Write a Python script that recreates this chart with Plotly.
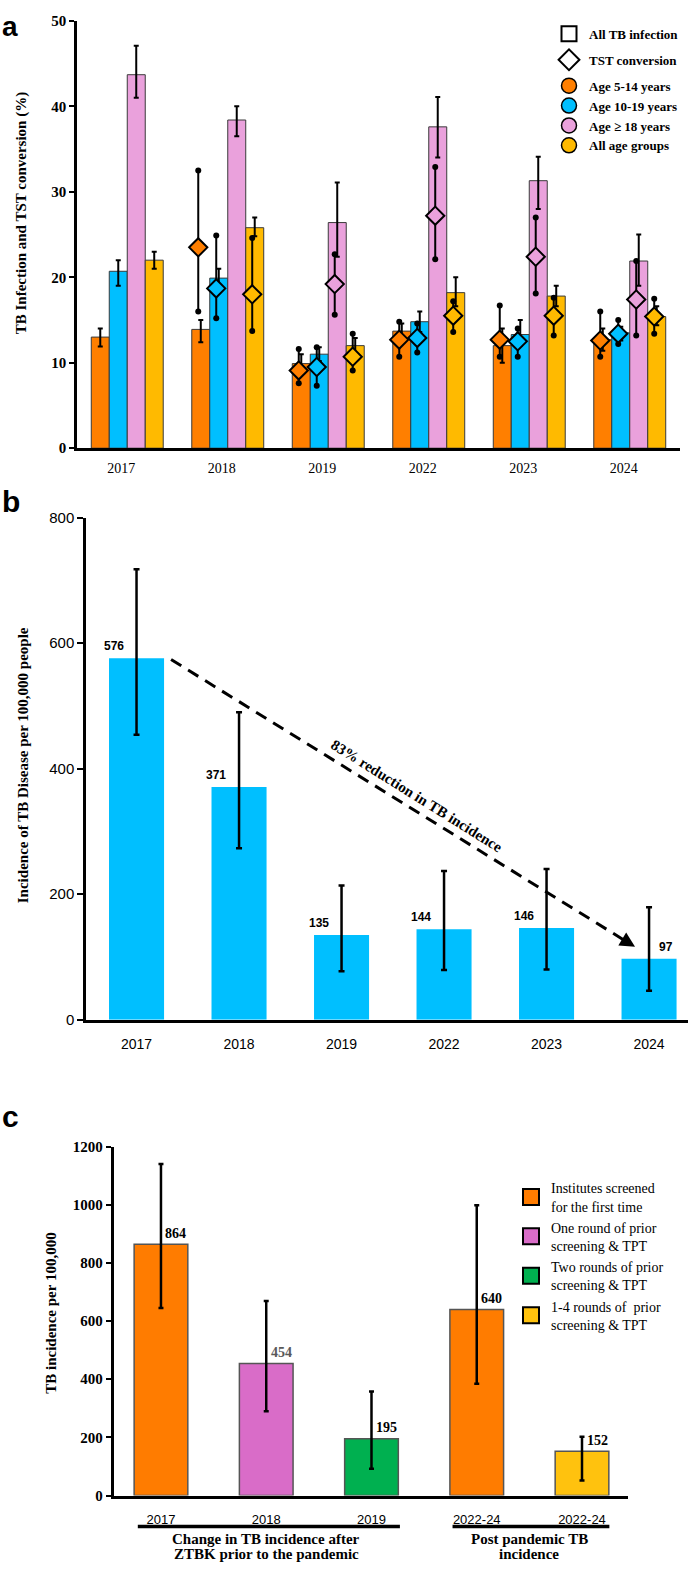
import numpy as np
import plotly.graph_objects as go

W, H = 692, 1571
nan = float("nan")
SERIF = "Times New Roman, Liberation Serif, serif"
SANS = "Arial, Liberation Sans, sans-serif"

# ---------------- Panel a data ----------------
years_a = ["2017", "2018", "2019", "2022", "2023", "2024"]
group_names = ["Age 5-14 years", "Age 10-19 years", "Age \u2265 18 years", "All age groups"]
group_colors = ["#FF7F00", "#00BFFF", "#EAA1DC", "#FFBA00"]

inf_age5_14 = [13.0, 13.9, 9.9, 13.7, 12.0, 12.7]
inf_age5_14_hi = [14.0, 15.0, 11.0, 14.6, 14.0, 14.0]
inf_age5_14_lo = [11.9, 12.4, 9.0, 12.8, 10.0, 11.4]
inf_age10_19 = [20.7, 19.9, 11.0, 14.8, 13.3, 13.5]
inf_age10_19_hi = [22.0, 21.0, 11.8, 16.0, 15.0, 14.2]
inf_age10_19_lo = [19.0, 18.6, 10.2, 13.6, 12.0, 12.6]
inf_age18 = [43.7, 38.4, 26.4, 37.6, 31.3, 21.9]
inf_age18_hi = [47.1, 40.0, 31.1, 41.1, 34.1, 25.0]
inf_age18_lo = [41.0, 36.5, 22.4, 34.0, 28.0, 19.0]
inf_all = [22.0, 25.8, 12.0, 18.2, 17.8, 15.4]
inf_all_hi = [23.0, 27.0, 12.9, 20.0, 19.0, 16.6]
inf_all_lo = [21.0, 24.8, 11.0, 16.6, 16.6, 14.4]

tst_age5_14 = [nan, 23.5, 9.1, 12.7, 12.7, 12.6]
tst_age5_14_hi = [nan, 32.5, 11.6, 14.8, 16.7, 16.0]
tst_age5_14_lo = [nan, 16.0, 7.6, 10.7, 10.7, 10.7]
tst_age10_19 = [nan, 18.7, 9.5, 12.9, 12.5, 13.4]
tst_age10_19_hi = [nan, 24.9, 11.8, 14.6, 14.0, 15.0]
tst_age10_19_lo = [nan, 15.2, 7.3, 11.2, 10.7, 12.2]
tst_age18 = [nan, nan, 19.2, 27.2, 22.4, 17.4]
tst_age18_hi = [nan, nan, 22.7, 32.9, 27.0, 21.9]
tst_age18_lo = [nan, nan, 15.6, 22.1, 18.1, 13.2]
tst_all = [nan, 18.0, 10.7, 15.5, 15.5, 15.4]
tst_all_hi = [nan, 24.6, 13.4, 17.2, 17.6, 17.5]
tst_all_lo = [nan, 13.7, 9.1, 13.6, 13.2, 13.4]

# ---------------- Panel b data ----------------
years_b = ["2017", "2018", "2019", "2022", "2023", "2024"]
incidence_b = [576, 371, 135, 144, 146, 97]
incidence_b_hi = [718, 490, 214, 237, 240, 179]
incidence_b_lo = [454, 273, 77, 79, 80, 46]
reduction_text = "83% reduction in TB incidence"

# ---------------- Panel c data ----------------
periods_c = ["2017", "2018", "2019", "2022-24", "2022-24"]
incidence_c = [864, 454, 195, 640, 152]
incidence_c_hi = [1140, 669, 358, 998, 202]
incidence_c_lo = [645, 290, 92, 384, 52]
cohort_c = [0, 1, 2, 0, 3]
cohort_names = ["Institutes screened<br>for the first time",
                "One round of prior<br>screening & TPT",
                "Two rounds of prior<br>screening & TPT",
                "1-4 rounds of  prior<br>screening & TPT"]
cohort_colors = ["#FF7C00", "#D96CC8", "#00B050", "#FFC20E"]
label_colors_c = ["black", "#595959", "black", "black", "black"]
group_label_1 = ["Change in TB incidence after", "ZTBK prior to the pandemic"]
group_label_2 = ["Post pandemic TB", "incidence"]

fig = go.Figure()

# ---------------- Panel a traces ----------------
inf_sets = [(inf_age5_14, inf_age5_14_hi, inf_age5_14_lo),
            (inf_age10_19, inf_age10_19_hi, inf_age10_19_lo),
            (inf_age18, inf_age18_hi, inf_age18_lo),
            (inf_all, inf_all_hi, inf_all_lo)]
tst_sets = [(tst_age5_14, tst_age5_14_hi, tst_age5_14_lo),
            (tst_age10_19, tst_age10_19_hi, tst_age10_19_lo),
            (tst_age18, tst_age18_hi, tst_age18_lo),
            (tst_all, tst_all_hi, tst_all_lo)]
idx_a = np.arange(len(years_a))
bar_w = 0.179
offsets = (np.arange(4) - 1.5) * bar_w

for g in range(4):
    v, hi, lo = (np.array(a, dtype=float) for a in inf_sets[g])
    fig.add_trace(go.Bar(
        x=idx_a + offsets[g], y=v, width=bar_w, xaxis="x", yaxis="y",
        marker=dict(color=group_colors[g], line=dict(color="#3a3a3a", width=1)),
        error_y=dict(type="data", symmetric=False, array=hi - v, arrayminus=v - lo,
                     color="black", thickness=2, width=2.5),
        showlegend=False, name=group_names[g]))

for g in range(4):
    v, hi, lo = (np.array(a, dtype=float) for a in tst_sets[g])
    xs = idx_a + offsets[g] - 0.025
    fig.add_trace(go.Scatter(
        x=np.concatenate([xs, xs]), y=np.concatenate([hi, lo]), mode="markers",
        xaxis="x", yaxis="y", marker=dict(color="black", size=6),
        showlegend=False, hoverinfo="skip"))
    fig.add_trace(go.Scatter(
        x=xs, y=v, mode="markers", xaxis="x", yaxis="y",
        marker=dict(symbol="diamond", size=14, color=group_colors[g],
                    line=dict(color="black", width=2)),
        error_y=dict(type="data", symmetric=False, array=hi - v, arrayminus=v - lo,
                     color="black", thickness=2, width=0),
        showlegend=False, name="TST " + group_names[g]))

# legend entries for panel a
fig.add_trace(go.Scatter(x=[None], y=[None], mode="markers", xaxis="x", yaxis="y",
                         name="All TB infection", legend="legend", legendgroup="l1",
                         marker=dict(symbol="square-open", size=15, color="black",
                                     line=dict(width=2, color="black"))))
fig.add_trace(go.Scatter(x=[None], y=[None], mode="markers", xaxis="x", yaxis="y",
                         name="TST conversion", legend="legend", legendgroup="l2",
                         marker=dict(symbol="diamond-open", size=17, color="black",
                                     line=dict(width=2, color="black"))))
for g in range(4):
    fig.add_trace(go.Scatter(x=[None], y=[None], mode="markers", xaxis="x", yaxis="y",
                             name=group_names[g], legend="legend", legendgroup="l3",
                             marker=dict(symbol="circle", size=15, color=group_colors[g],
                                         line=dict(width=1.5, color="black"))))

# ---------------- Panel b traces ----------------
idx_b = np.arange(len(years_b))
vb = np.array(incidence_b, dtype=float)
fig.add_trace(go.Bar(
    x=idx_b, y=vb, width=0.537, xaxis="x2", yaxis="y2",
    marker=dict(color="#00BFFF", line=dict(width=0)),
    error_y=dict(type="data", symmetric=False,
                 array=np.array(incidence_b_hi) - vb, arrayminus=vb - np.array(incidence_b_lo),
                 color="black", thickness=2.5, width=3),
    showlegend=False))

# ---------------- Panel c traces ----------------
for i in range(len(periods_c)):
    c = cohort_c[i]
    fig.add_trace(go.Bar(
        x=[i], y=[incidence_c[i]], width=0.51, xaxis="x3", yaxis="y3",
        marker=dict(color=cohort_colors[c], line=dict(color="#555555", width=1.5)),
        error_y=dict(type="data", symmetric=False,
                     array=[incidence_c_hi[i] - incidence_c[i]],
                     arrayminus=[incidence_c[i] - incidence_c_lo[i]],
                     color="black", thickness=2.5, width=2.5),
        showlegend=False))
for c in range(4):
    fig.add_trace(go.Scatter(x=[None], y=[None], mode="markers", xaxis="x3", yaxis="y3",
                             name=cohort_names[c], legend="legend2",
                             marker=dict(symbol="square", size=16, color=cohort_colors[c],
                                         line=dict(width=2, color="black"))))

annotations = []
shapes = []

def py(px):
    return 1 - px / H

# panel letters
annotations.append(dict(text="<b>a</b>", x=0, y=1, xref="paper", yref="paper",
                        xanchor="left", yanchor="top", showarrow=False,
                        font=dict(family=SANS, size=28, color="black")))
for letter, ypx in [("b", 498), ("c", 1120)]:
    annotations.append(dict(text="<b>%s</b>" % letter, x=0, y=py(ypx), xref="paper", yref="paper",
                            xanchor="left", yanchor="middle", showarrow=False,
                            font=dict(family=SANS, size=30, color="black")))

# y titles
for txt, xpx, ypx in [("TB Infection and TST conversion (%)", 21.5, 207),
                      ("Incidence of TB Disease per 100,000 people", 22.5, 765),
                      ("TB incidence per 100,000", 51, 1319)]:
    annotations.append(dict(text="<b>%s</b>" % txt, x=xpx / W, y=py(ypx),
                            xref="paper", yref="paper", textangle=-90, showarrow=False,
                            xanchor="center", yanchor="middle",
                            font=dict(family=SERIF, size=15, color="black")))

# panel b value labels
for i, v in enumerate(incidence_b):
    last = i == len(incidence_b) - 1
    annotations.append(dict(text="<b>%d</b>" % v, x=i, y=v, xref="x2", yref="y2",
                            xshift=17 if last else -23, yshift=12, showarrow=False,
                            xanchor="center", yanchor="middle",
                            font=dict(family=SANS, size=12, color="black")))

# dashed trend arrow in panel b
x_start, x_tip = 0.337, 4.863
y_start, y_tip = incidence_b[0] - 2, incidence_b[-1] + 19
shapes.append(dict(type="line", xref="x2", yref="y2", x0=x_start, y0=y_start,
                   x1=x_start + (x_tip - x_start) * 0.975, y1=y_start + (y_tip - y_start) * 0.975,
                   line=dict(color="black", width=3, dash="12px,8px")))
annotations.append(dict(text="", x=x_tip, y=y_tip, xref="x2", yref="y2", showarrow=True,
                        ax=-13, ay=-8, arrowhead=2, arrowsize=1, arrowwidth=3,
                        arrowcolor="black"))
annotations.append(dict(text="<b>%s</b>" % reduction_text, x=2.734, y=356, xref="x2", yref="y2",
                        textangle=32, showarrow=False, xanchor="center", yanchor="middle",
                        font=dict(family=SERIF, size=15, color="black")))

# panel c value labels
for i, v in enumerate(incidence_c):
    annotations.append(dict(text="<b>%d</b>" % v, x=i, y=v, xref="x3", yref="y3",
                            xshift=15, yshift=11, showarrow=False,
                            xanchor="center", yanchor="middle",
                            font=dict(family=SERIF, size=14, color=label_colors_c[i])))

# panel c group labels
for (line_txt, ypx) in zip(group_label_1, [1546.7, 1561.7]):
    annotations.append(dict(text="<b>%s</b>" % line_txt, x=1.0, y=py(ypx), xref="x3", yref="paper",
                            showarrow=False, xanchor="center", yanchor="middle",
                            font=dict(family=SERIF, size=15, color="black")))
for (line_txt, ypx) in zip(group_label_2, [1546.7, 1561.7]):
    annotations.append(dict(text="<b>%s</b>" % line_txt, x=3.5, y=py(ypx), xref="x3", yref="paper",
                            showarrow=False, xanchor="center", yanchor="middle",
                            font=dict(family=SERIF, size=15, color="black")))
shapes.append(dict(type="line", xref="x3", yref="paper", x0=-0.22, x1=2.27, y0=py(1534), y1=py(1534),
                   line=dict(color="black", width=3.5)))
shapes.append(dict(type="line", xref="x3", yref="paper", x0=2.77, x1=4.26, y0=py(1534), y1=py(1534),
                   line=dict(color="black", width=3.5)))

axis_common = dict(showline=True, linecolor="black", showgrid=False, zeroline=False,
                   fixedrange=True)

fig.update_layout(
    width=W, height=H, margin=dict(l=0, r=0, t=0, b=0),
    paper_bgcolor="white", plot_bgcolor="white", barmode="overlay",
    xaxis=dict(domain=[77 / W, 680 / W], range=[-0.5, 5.5], anchor="y",
               tickmode="array", tickvals=idx_a - 0.06, ticktext=years_a, ticks="",
               ticklabelstandoff=5,
               tickfont=dict(family=SERIF, size=14, color="black"), linewidth=2.5, **axis_common),
    yaxis=dict(domain=[py(444), py(12)], range=[0, 50], dtick=10, anchor="x",
               ticks="outside", ticklen=5, tickwidth=2, tickcolor="black",
               tickfont=dict(family=SERIF, size=15, color="black", weight="bold"),
               linewidth=2.5, **axis_common),
    xaxis2=dict(domain=[86 / W, 688 / W], range=[-0.493, 5.38], anchor="y2",
                tickmode="array", tickvals=idx_b, ticktext=years_b, ticks="",
                ticklabelstandoff=10,
                tickfont=dict(family=SANS, size=14, color="black"), linewidth=2.5, **axis_common),
    yaxis2=dict(domain=[py(1021.7), py(514.3)], range=[0, 800], dtick=200, anchor="x2",
                ticks="outside", ticklen=6, tickwidth=2, tickcolor="black",
                tickfont=dict(family=SANS, size=15, color="black"),
                linewidth=2.5, **axis_common),
    xaxis3=dict(domain=[113.5 / W, 628 / W], range=[-0.451, 4.437], anchor="y3",
                tickmode="array", tickvals=list(range(len(periods_c))), ticktext=periods_c, ticks="",
                ticklabelstandoff=10,
                tickfont=dict(family=SANS, size=13, color="black"), linewidth=3, **axis_common),
    yaxis3=dict(domain=[py(1502.8), py(1150)], range=[0, 1200], dtick=200, anchor="x3",
                ticks="outside", ticklen=5, tickwidth=2, tickcolor="black",
                tickfont=dict(family=SERIF, size=15, color="black", weight="bold"),
                linewidth=2.5, **axis_common),
    legend=dict(x=549 / W, y=py(10), xanchor="left", yanchor="top", bgcolor="rgba(0,0,0,0)",
                traceorder="grouped", tracegroupgap=6, itemsizing="trace",
                font=dict(family=SERIF, size=13, color="black", weight="bold")),
    legend2=dict(x=511 / W, y=py(1176), xanchor="left", yanchor="top", bgcolor="rgba(0,0,0,0)",
                 font=dict(family=SERIF, size=14, color="black")),
    annotations=annotations, shapes=shapes,
)

fig.write_html("out.html")
